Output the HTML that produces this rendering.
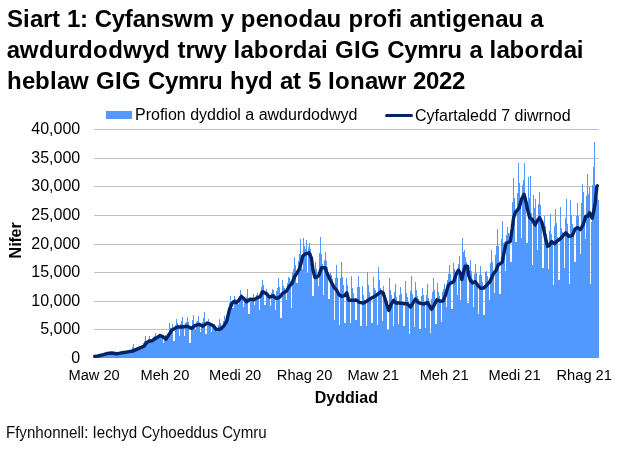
<!DOCTYPE html>
<html lang="cy">
<head>
<meta charset="utf-8">
<title>Siart 1</title>
<style>
html,body{margin:0;padding:0;background:#fff;}
body{width:624px;height:453px;overflow:hidden;font-family:"Liberation Sans",Arial,sans-serif;color:#000;}
svg{display:block;position:absolute;left:0;top:0;}
text{font-family:"Liberation Sans",Arial,sans-serif;fill:#000;font-kerning:none;font-variant-ligatures:none;white-space:pre;}
.title{font-size:24px;font-weight:bold;}
.lab{font-size:16px;}
.xlab{font-size:14.67px;}
.b{font-weight:bold;}
.src text{font-size:16.6px;fill:#0b0c0c;}
</style>
</head>
<body>
<svg width="624" height="453" viewBox="0 0 624 453">
<rect width="624" height="453" fill="#ffffff"/>
<g class="title">
<text x="7 22.98 29.97 42.95 51.93 59.92 66.91 79.89 87.88 94.87 111.84 124.82 132.81 145.79 160.77 173.75 192.72 213.69 220.68 233.66 240.65 255.63 268.61 283.58 298.56 313.54 326.52 341.5 348.49 363.46 372.45 387.43 395.42 402.41 409.4 422.38 437.35 445.34 452.33 467.31 480.29 495.27 508.25 523.22 530.21" y="27.2">Siart 1: Cyfanswm y penodau profi antigenau a</text>
<text x="6.8 19.85 38.91 53.96 69.02 78.05 93.1 108.15 123.21 142.27 155.32 170.37 177.4 185.42 194.45 213.52 226.57 233.59 240.62 253.66 268.71 283.77 292.8 307.85 320.9 327.92 334.94 354.01 361.04 380.1 387.13 404.19 417.23 438.31 447.34 462.39 469.41 482.46 489.48 496.51 509.55 524.61 539.66 548.69 563.74 576.79" y="58">awdurdodwyd trwy labordai GIG Cymru a labordai</text>
<text x="7 22 35 50 57 70 89 96 115 122 141 148 165 178 199 208 223 230 245 258 273 280 293 301 308 321 328 335 350 365 378 397 406 413 426 439 452" y="88.6">heblaw GIG Cymru hyd at 5 Ionawr 2022</text>
</g>
<g fill="#bfbfbf"><rect x="94" y="129" width="504.5" height="1"/><rect x="94" y="158" width="504.5" height="1"/><rect x="94" y="186" width="504.5" height="1"/><rect x="94" y="215" width="504.5" height="1"/><rect x="94" y="244" width="504.5" height="1"/><rect x="94" y="272" width="504.5" height="1"/><rect x="94" y="301" width="504.5" height="1"/><rect x="94" y="329" width="504.5" height="1"/></g>
<path d="M94,358V357H95V356H96V355H97V356H98V356H99V356H100V355H101V354H102V355H103V355H104V355H105V353H106V353H107V353H108V353H109V354H110V354H111V352H112V353H113V353H114V353H115V354H116V353H117V353H118V353H119V353H120V354H121V352H122V352H123V352H124V352H125V353H126V353H127V351H128V351H129V351H130V352H131V352H132V347H133V344H134V348H135V350H136V350H137V348H138V347H139V348H140V348H141V348H142V348H143V343H144V341H145V336H146V343H147V343H148V339H149V336H150V339H151V341H152V341H153V337H154V336H155V333H156V336H157V338H158V338H159V334H160V335H161V336H162V337H163V343H164V337H165V335H166V336H167V337H168V335H169V323H170V328H171V329H172V324H173V341H174V341H175V325H176V319H177V323H178V326H179V336H180V324H181V321H182V317H183V325H184V336H185V323H186V322H187V317H188V322H189V343H190V343H191V326H192V320H193V315H194V326H195V330H196V322H197V321H198V316H199V323H200V332H201V324H202V322H203V318H204V312H205V334H206V334H207V322H208V319H209V322H210V323H211V332H212V325H213V325H214V324H215V328H216V332H217V332H218V325H219V319H220V323H221V328H222V328H223V321H224V316H225V321H226V321H227V318H228V307H229V303H230V296H231V304H232V308H233V308H234V296H235V299H236V300H237V302H238V304H239V296H240V290H241V294H242V296H243V307H244V299H245V299H246V297H247V289H248V314H249V314H250V299H251V298H252V297H253V294H254V305H255V298H256V295H257V293H258V296H259V310H260V291H261V287H262V280H263V285H264V305H265V305H266V289H267V292H268V293H269V296H270V306H271V293H272V289H273V290H274V294H275V310H276V291H277V288H278V278H279V287H280V318H281V318H282V280H283V286H284V288H285V291H286V300H287V283H288V277H289V278H290V281H291V308H292V273H293V269H294V257H295V265H296V283H297V283H298V261H299V254H300V239H301V260H302V269H303V238H304V246H305V249H306V240H307V273H308V247H309V243H310V249H311V253H312V296H313V296H314V271H315V262H316V269H317V275H318V286H319V253H320V237H321V254H322V264H323V295H324V260H325V252H326V261H327V267H328V299H329V299H330V273H331V275H332V279H333V283H334V320H335V278H336V265H337V278H338V291H339V325H340V278H341V262H342V277H343V285H344V323H345V323H346V278H347V285H348V295H349V300H350V323H351V276H352V288H353V293H354V299H355V320H356V320H357V287H358V276H359V287H360V326H361V326H362V286H363V295H364V300H365V303H366V326H367V272H368V285H369V292H370V298H371V323H372V323H373V277H374V288H375V290H376V294H377V325H378V267H379V280H380V288H381V291H382V321H383V286H384V292H385V295H386V305H387V330H388V330H389V278H390V290H391V295H392V302H393V326H394V292H395V284H396V297H397V301H398V324H399V295H400V287H401V294H402V301H403V326H404V326H405V281H406V293H407V297H408V302H409V334H410V291H411V276H412V294H413V301H414V327H415V282H416V290H417V296H418V299H419V329H420V329H421V296H422V288H423V295H424V303H425V328H426V295H427V284H428V298H429V304H430V333H431V299H432V292H433V278H434V290H435V324H436V324H437V283H438V292H439V296H440V299H441V322H442V292H443V289H444V284H445V293H446V307H447V280H448V274H449V265H450V274H451V309H452V309H453V263H454V269H455V272H456V273H457V295H458V264H459V256H460V300H461V276H462V238H463V252H464V250H465V257H466V262H467V303H468V303H469V271H470V260H471V271H472V279H473V307H474V274H475V264H476V273H477V284H478V314H479V275H480V266H481V275H482V282H483V315H484V315H485V272H486V271H487V276H488V282H489V300H490V263H491V250H492V262H493V272H494V293H495V255H496V246H497V229H498V246H499V294H500V294H501V239H502V221H503V243H504V247H505V271H506V235H507V227H508V233H509V239H510V262H511V262H512V202H513V178H514V198H515V242H516V242H517V193H518V163H519V183H520V199H521V238H522V185H523V180H524V163H525V197H526V243H527V243H528V177H529V198H530V176H531V213H532V265H533V195H534V208H535V199H536V223H537V250H538V204H539V192H540V205H541V220H542V268H543V268H544V216H545V226H546V234H547V241H548V269H549V231H550V214H551V234H552V242H553V285H554V226H555V209H556V223H557V237H558V280H559V280H560V207H561V228H562V232H563V237H564V268H565V218H566V199H567V224H568V233H569V284H570V200H571V215H572V224H573V229H574V262H575V262H576V216H577V203H578V216H579V227H580V254H581V203H582V184H583V192H584V218H585V239H586V196H587V174H588V194H589V187H590V284H591V222H592V185H593V167H594V142H595V196H596V198H597V198H598V200H599V358Z" fill="#5299ff" shape-rendering="crispEdges"/>
<polyline points="94.7,356.4 98.1,356.0 103.5,354.6 107.5,353.4 111.5,353.0 116.9,353.8 122.3,352.7 127.7,351.9 133.1,351.0 137.1,349.1 141.1,347.4 143.8,346.4 146.5,342.8 149.2,341.1 151.9,340.8 154.6,339.0 157.3,337.4 160.0,335.5 162.7,336.6 166.0,339.2 169.1,334.3 172.0,329.9 177.5,327.0 182.2,327.0 187.0,326.3 191.6,328.4 195.0,325.7 199.0,324.3 203.0,326.3 207.1,323.0 210.5,324.3 213.8,326.3 216.5,329.7 220.6,329.0 224.0,325.7 226.6,321.6 229.3,310.2 232.0,303.5 234.0,301.4 236.5,302.6 238.7,300.5 241.4,296.5 244.1,298.8 246.8,301.8 250.1,299.1 253.5,299.8 257.5,297.8 260.2,296.4 262.9,291.7 266.3,293.7 269.6,297.1 273.0,295.8 276.4,298.5 279.7,297.1 282.4,293.7 286.5,291.0 289.2,286.4 291.9,283.5 294.5,277.0 296.6,273.6 299.3,269.0 300.8,264.3 302.7,256.2 305.0,254.1 308.9,252.8 311.4,258.1 313.1,270.5 315.0,277.5 317.0,277.1 318.9,275.1 321.6,267.7 325.0,267.7 327.0,273.0 330.4,280.5 334.4,287.9 336.5,290.0 338.7,294.3 341.4,296.3 344.7,295.6 346.8,292.9 348.8,300.3 353.5,300.3 356.2,300.0 359.5,302.4 363.6,303.0 367.0,301.0 371.0,298.3 375.0,296.3 378.4,293.6 381.1,291.6 383.1,292.9 385.1,299.0 387.1,305.7 388.8,310.4 391.2,304.4 393.6,300.3 395.9,303.0 399.3,303.0 403.3,303.7 407.3,303.7 410.5,307.1 412.9,303.1 415.4,299.0 418.1,302.4 421.4,303.8 424.8,303.8 427.5,302.4 429.5,305.8 431.5,309.2 434.2,305.1 436.9,299.7 439.6,301.1 443.0,301.1 445.7,294.4 448.4,284.9 451.0,282.9 453.7,281.6 456.4,273.5 458.5,270.1 460.5,273.5 461.8,279.6 463.2,273.5 465.2,266.1 467.6,266.1 468.5,274.8 470.6,280.9 472.6,282.9 475.3,281.6 478.0,285.6 480.7,288.3 483.4,288.3 486.5,285.4 490.0,281.5 493.4,273.8 496.1,270.4 498.1,265.0 502.2,262.3 504.2,251.6 506.2,243.0 510.2,241.7 512.2,228.5 513.6,217.6 515.6,212.2 519.0,208.2 521.7,198.8 524.1,194.3 526.4,203.5 527.7,210.2 529.7,217.6 532.4,219.7 535.1,225.0 537.1,221.0 539.6,217.6 541.9,222.5 543.9,230.5 545.7,239.0 547.6,246.3 549.4,245.5 551.6,241.5 554.3,243.8 556.8,241.3 559.9,239.2 562.9,235.8 565.9,232.8 568.7,236.4 572.3,235.7 575.0,229.0 577.7,227.6 580.4,229.6 583.1,224.9 585.8,216.2 587.8,216.2 589.5,212.8 592.2,218.2 593.8,210.8 595.2,202.7 596.1,194.0 596.9,186.3 597.3,185.8" fill="none" stroke="#002366" stroke-width="3.4" stroke-linejoin="round" stroke-linecap="round"/>
<rect x="106" y="111" width="26" height="8" fill="#5299ff"/>
<line x1="386.5" y1="115.5" x2="411.5" y2="115.5" stroke="#002366" stroke-width="3" stroke-linecap="round"/>
<g class="lab">
<text x="135 145.67 151 159.9 164.34 167.9 176.8 185.7 190.14 199.04 207.04 215.94 224.84 228.39 237.29 240.84 245.29 254.19 258.63 267.53 279.09 287.98 296.88 302.21 311.11 320.01 328.91 340.46 348.46" y="120.4">Profion dyddiol a awdurdodwyd</text>
<text x="415 426.55 434.55 439 447.9 453.23 457.67 466.57 470.12 479.02 487.92 496.82 501.27 510.16 514.61 523.51 527.06 538.62 543.95 552.84 561.74" y="120.5">Cyfartaledd 7 diwrnod</text>
<text x="31.26 40.16 49.06 53.5 62.4 71.3" y="133.8">40,000</text><text x="31.26 40.16 49.06 53.5 62.4 71.3" y="162.8">35,000</text><text x="31.26 40.16 49.06 53.5 62.4 71.3" y="190.8">30,000</text><text x="31.26 40.16 49.06 53.5 62.4 71.3" y="219.8">25,000</text><text x="31.26 40.16 49.06 53.5 62.4 71.3" y="248.8">20,000</text><text x="31.26 40.16 49.06 53.5 62.4 71.3" y="276.8">15,000</text><text x="31.26 40.16 49.06 53.5 62.4 71.3" y="305.8">10,000</text><text x="40.16 49.06 53.5 62.4 71.3" y="333.8">5,000</text><text x="71.3" y="362.8">0</text>
<g transform="translate(21,258.5) rotate(-90)"><text class="b" x="0 12 16 21 30" y="0">Nifer</text></g>
<text class="b" x="314.8 326.35 335.25 345.03 354.8 359.25 368.14" y="403.4">Dyddiad</text>
<g transform="translate(5.9,438) scale(0.912,1)" class="src"><text x="0 10.14 14.75 23.05 32.28 41.52 50.75 59.98 69.21 78.44 82.13 85.82 90.43 95.04 99.66 108.89 117.19 126.42 134.72 143.95 148.57 160.55 168.85 178.09 187.32 196.55 205.78 215.01 224.25 232.55 237.16 249.15 257.45 271.27 276.8" y="0">Ffynhonnell: Iechyd Cyhoeddus Cymru</text></g>
</g>
<g class="xlab"><text x="68.42 80.64 88.8 99.39 103.47 111.62" y="379.6">Maw 20</text><text x="140.43 152.65 160.81 168.97 173.05 181.21" y="379.6">Meh 20</text><text x="209 221.23 229.38 237.54 240.8 244.88 253.04" y="379.6">Medi 20</text><text x="276.87 287.46 295.62 303.78 311.94 316.01 324.17" y="379.6">Rhag 20</text><text x="347.52 359.74 367.9 378.49 382.57 390.72" y="379.6">Maw 21</text><text x="419.63 431.85 440.01 448.17 452.25 460.41" y="379.6">Meh 21</text><text x="488.4 500.63 508.78 516.94 520.2 524.28 532.44" y="379.6">Medi 21</text><text x="556.47 567.06 575.22 583.38 591.54 595.61 603.77" y="379.6">Rhag 21</text></g>
</svg>
</body>
</html>
